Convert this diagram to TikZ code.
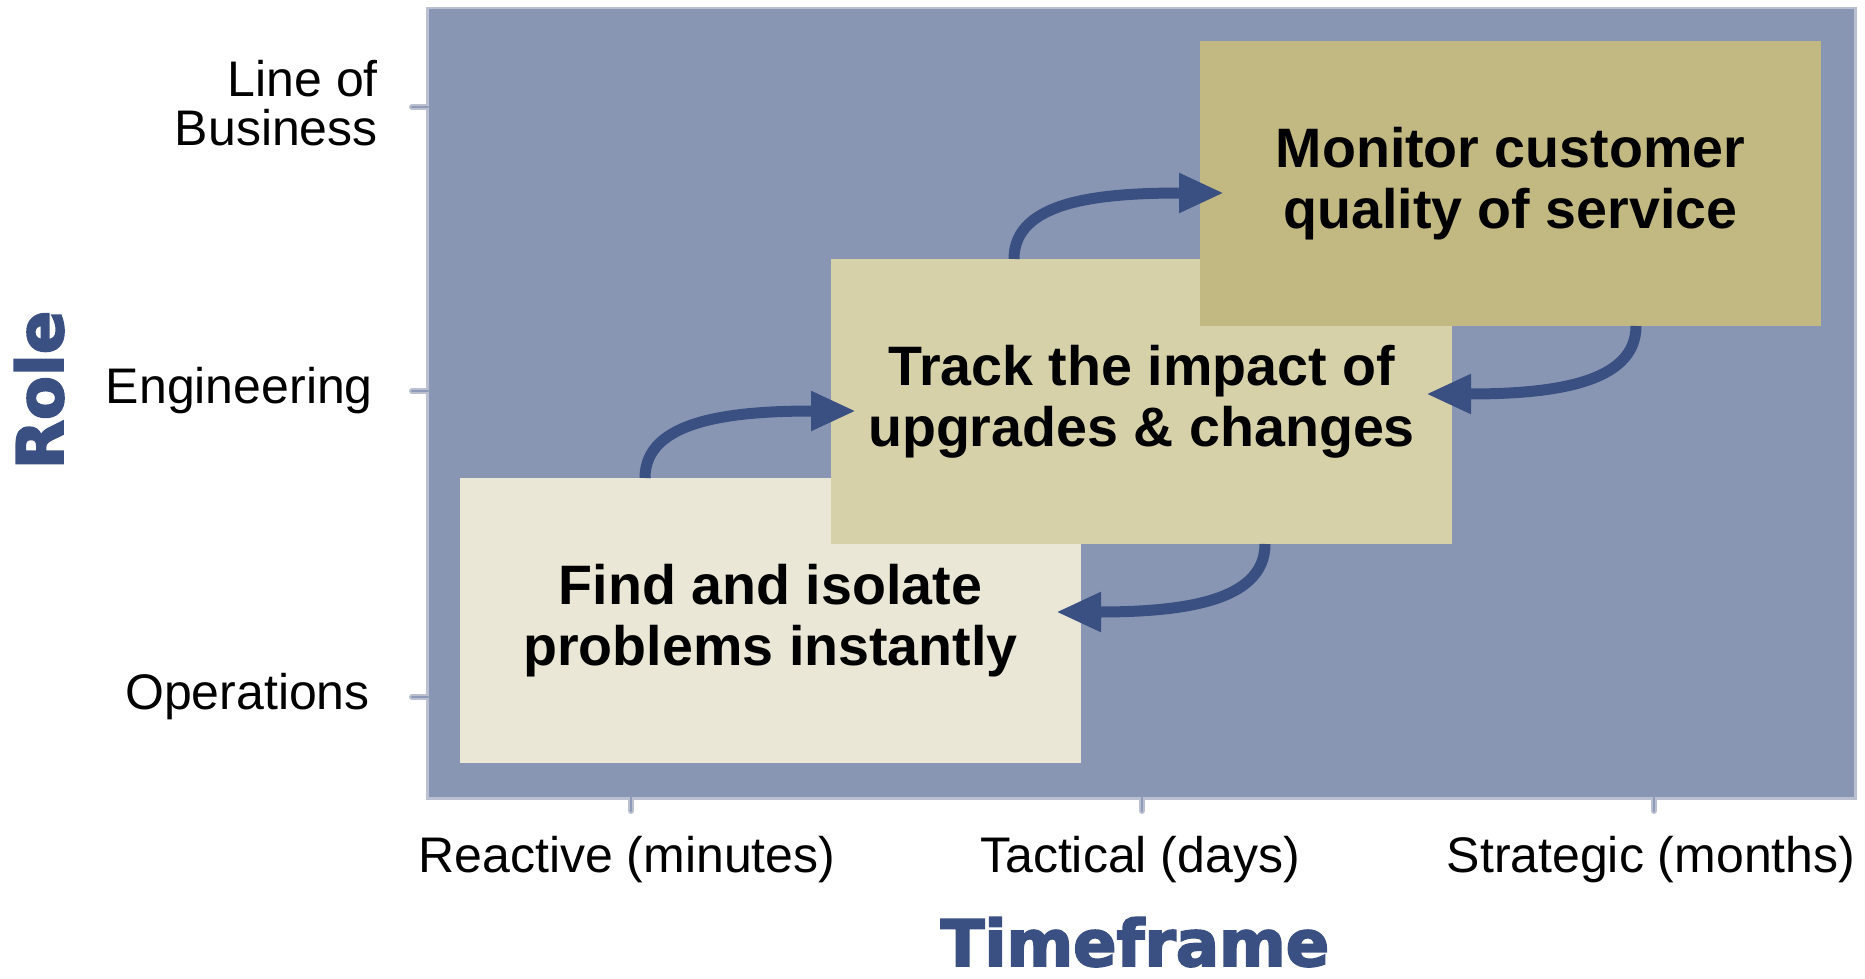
\documentclass[tikz,border=0pt]{standalone}
\usepackage{fontspec}
\setmainfont{Liberation Sans}
\newfontfamily\heavyfont{DejaVu Sans}[BoldFeatures={FakeBold=3}]
\usetikzlibrary{arrows.meta,calc}
\definecolor{panelc}{HTML}{8896B3}
\definecolor{navy}{HTML}{3A5082}
\definecolor{opsc}{HTML}{EAE7D6}
\definecolor{engc}{HTML}{D7D1AA}
\definecolor{lobc}{HTML}{C2B882}
\definecolor{tickc}{HTML}{8E9AB8}
\definecolor{edgec}{HTML}{BAC0D0}
\newcommand{\stagetext}[2]{\parbox[c][285pt][t]{621pt}{\centering\fontsize{55.6pt}{61pt}\selectfont\bfseries\rule{0pt}{126pt}#1\\#2}}
\tikzset{
  stage/.style={rectangle, inner sep=0pt, outer sep=0pt, anchor=north west, minimum width=621pt, minimum height=285pt},
  flow/.style={draw=navy, line width=11pt, -{Triangle[length=45pt,width=37pt]}},
  axislab/.style={font=\fontsize{50pt}{48pt}\selectfont, inner sep=0pt},
  heavy/.style={font=\heavyfont\bfseries\fontsize{64pt}{70pt}\selectfont, text=navy, inner sep=0pt},
  tickout/.style={draw=edgec, line width=6pt, line cap=round},
  tickin/.style={draw=tickc, line width=2.5pt, line cap=round}
}
\begin{document}
\begin{tikzpicture}[x=1pt,y=-1pt]
\useasboundingbox (0,0) rectangle (1865,979);
% ticks (outline)
\draw[tickout] (412,107) -- (426,107);
\draw[tickout] (412,391) -- (426,391);
\draw[tickout] (412,697) -- (426,697);
\draw[tickout] (631,797) -- (631,811);
\draw[tickout] (1142,797) -- (1142,811);
\draw[tickout] (1654,797) -- (1654,811);
% panel
\node[rectangle, inner sep=0pt, anchor=north west, minimum width=1428pt, minimum height=790pt, fill=panelc, draw=edgec, line width=2.5pt] (panel) at (426,7) {};
% ticks (inner)
\draw[tickin] (412,107) -- (428,107);
\draw[tickin] (412,391) -- (428,391);
\draw[tickin] (412,697) -- (428,697);
\draw[tickin] (631,795) -- (631,811);
\draw[tickin] (1142,795) -- (1142,811);
\draw[tickin] (1654,795) -- (1654,811);
% stages
\node[stage, fill=opsc] (ops) at (460,478) {\stagetext{Find and isolate}{problems instantly}};
\node[stage, fill=engc] (eng) at (831,259) {\stagetext{Track the impact of}{upgrades \& changes}};
\node[stage, fill=lobc] (lob) at (1200,41) {\stagetext{Monitor customer}{quality of service}};
% arrows
\draw[flow] ($(ops.north west)+(185,0)$) .. controls +(0,-58) and +(-125,0) .. ($(eng.north west)+(25,152)$);
\draw[flow] ($(eng.north west)+(183,0)$) .. controls +(0,-58) and +(-125,0) .. ($(lob.north west)+(24,152)$);
\draw[flow] ($(lob.south west)+(436,0)$) .. controls +(0,58) and +(125,0) .. ($(eng.north east)+(-26,135)$);
\draw[flow] ($(eng.south west)+(434,0)$) .. controls +(0,58) and +(125,0) .. ($(ops.north east)+(-25,134)$);
% axis labels
\node[axislab, anchor=base east] (lobA) at (378,97) {Line of};
\node[axislab, anchor=base east] (lobB) at (378,146) {Business};
\node[axislab, anchor=base east] (englab) at (373,403) {Engineering};
\node[axislab, anchor=base east] (opslab) at (370,709) {Operations};
\node[axislab, anchor=base] (reac) at (627,872) {Reactive (minutes)};
\node[axislab, anchor=base] (tact) at (1140,872) {Tactical (days)};
\node[axislab, anchor=base] (strat) at (1651,872) {Strategic (months)};
\node[heavy, anchor=base] (tf) at (1135,966) {Timeframe};
\node[heavy, anchor=base, rotate=90] (role) at (63,390) {Role};
\end{tikzpicture}
\end{document}
